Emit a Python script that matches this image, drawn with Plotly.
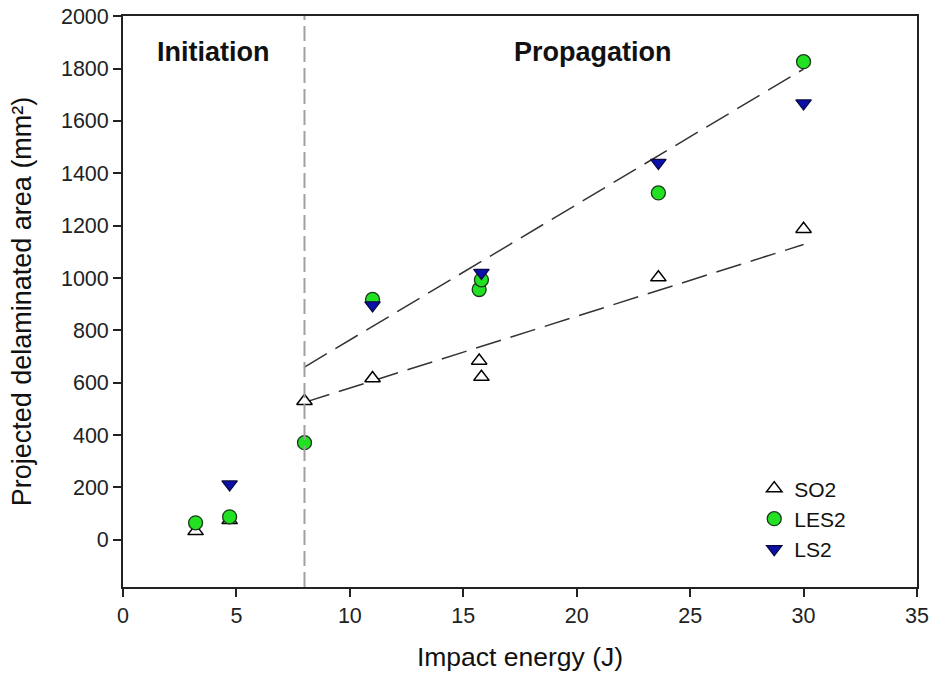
import plotly.graph_objects as go

# ---- data ----
so2_x = [3.2, 4.7, 8.0, 11.0, 15.7, 15.8, 23.6, 30.0]
so2_y = [33, 75, 530, 617, 684, 622, 1002, 1187]

les2_x = [3.2, 4.7, 8.0, 11.0, 15.7, 15.8, 23.6, 30.0]
les2_y = [65, 88, 371, 918, 956, 993, 1325, 1826]

ls2_x = [4.7, 11.0, 15.8, 23.6, 30.0]
ls2_y = [212, 896, 1020, 1440, 1667]

trend_x = [8.0, 30.0]
trend_lower = [525, 1128]
trend_upper = [660, 1798]

boundary_x = 8.0

region_labels = ["Initiation", "Propagation"]
region_label_x = [3.95, 20.7]
region_label_y = 1862

x_ticks = [0, 5, 10, 15, 20, 25, 30, 35]
y_ticks = [0, 200, 400, 600, 800, 1000, 1200, 1400, 1600, 1800, 2000]

FONT = "Arial, Liberation Sans, sans-serif"

fig = go.Figure()

# trend lines
for ty in (trend_lower, trend_upper):
    fig.add_trace(go.Scatter(
        x=trend_x, y=ty, mode="lines", showlegend=False, hoverinfo="skip",
        line=dict(color="#333333", width=1.5, dash="26px,10px")))

fig.add_trace(go.Scatter(
    x=so2_x, y=so2_y, mode="markers", name="SO2",
    marker=dict(symbol="triangle-up", size=13.5, color="white",
                line=dict(color="black", width=1.5))))

fig.add_trace(go.Scatter(
    x=les2_x, y=les2_y, mode="markers", name="LES2",
    marker=dict(symbol="circle", size=14, color="#22e022",
                line=dict(color="#1a3a1a", width=1.3))))

fig.add_trace(go.Scatter(
    x=ls2_x, y=ls2_y, mode="markers", name="LS2",
    marker=dict(symbol="triangle-down", size=13.5, color="#0a10a8",
                line=dict(color="#0a0a40", width=1.2))))

# vertical dashed boundary
fig.add_shape(type="line", xref="x", yref="paper",
              x0=boundary_x, x1=boundary_x, y0=0, y1=1,
              line=dict(color="#a0a0a0", width=2, dash="15px,6px"))

for lbl, lx in zip(region_labels, region_label_x):
    fig.add_annotation(x=lx, y=region_label_y, text="<b>%s</b>" % lbl,
                       showarrow=False, xanchor="center", yanchor="middle",
                       font=dict(family=FONT, size=27, color="#111111"))

axis_common = dict(showline=True, linecolor="#222222", linewidth=1.8,
                   mirror=True, ticks="outside", ticklen=8, tickwidth=1.5,
                   tickcolor="#222222", showgrid=False, zeroline=False,
                   automargin=False, ticklabeloverflow="allow",
                   tickfont=dict(family=FONT, size=21.5, color="#222222"))

fig.update_xaxes(range=[0, 35], tickvals=x_ticks,
                 title=dict(text="Impact energy (J)", standoff=21,
                            font=dict(family=FONT, size=26.5, color="#111111")),
                 **axis_common)
fig.update_yaxes(range=[-180, 2000.5], tickvals=y_ticks,
                 title=dict(text="Projected delaminated area (mm²)", standoff=22,
                            font=dict(family=FONT, size=27, color="#111111")),
                 **axis_common)

fig.update_layout(
    width=936, height=685,
    margin=dict(l=123, r=19, t=16, b=98),
    plot_bgcolor="white", paper_bgcolor="white",
    font=dict(family=FONT),
    legend=dict(x=0.795, y=0.208, xanchor="left", yanchor="top",
                bgcolor="rgba(0,0,0,0)", borderwidth=0,
                font=dict(family=FONT, size=21, color="#111111"),
                itemsizing="trace", tracegroupgap=0),
)

# remove the browser's default 8px body margin so the figure fills the window
fig.write_html("out.html",
               config={"displayModeBar": False},
               post_script="document.body.style.margin='0';")
